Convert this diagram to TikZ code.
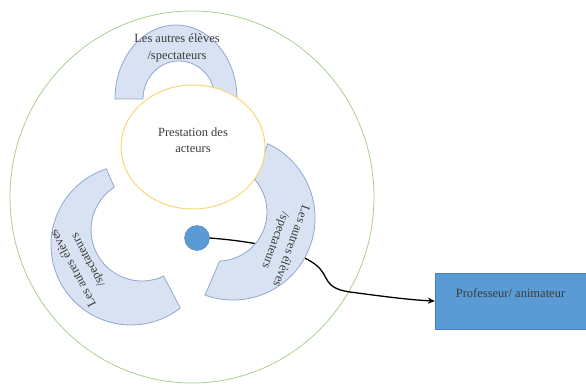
\documentclass[tikz,border=0pt]{standalone}
\usepackage{fontspec}
\setmainfont{Liberation Serif}
\usetikzlibrary{arrows.meta}
\definecolor{bandfill}{HTML}{D9E2F3}
\definecolor{bandline}{HTML}{8FA8CF}
\definecolor{ringgreen}{HTML}{A9CF8F}
\definecolor{ringyellow}{HTML}{F6D878}
\definecolor{profblue}{HTML}{5B9BD5}
\definecolor{profline}{HTML}{4A80B8}
\definecolor{txtgray}{HTML}{3A3A3A}
\begin{document}
\begin{tikzpicture}[x=1pt,y=1pt,
  band/.style={fill=bandfill,draw=bandline,line width=0.8pt},
  bandtext/.style={align=center,text=txtgray,font=\fontsize{12.5}{16.5}\selectfont},
  conn/.style={draw=black,line width=1.3pt,-{Stealth[length=7pt,width=6pt]}}]
\useasboundingbox (0,0) rectangle (586,-385);
\draw[ringgreen,line width=0.8pt] (192,-197) ellipse [x radius=182, y radius=186];
\node[circle,fill=profblue,draw=profline,minimum size=25pt,inner sep=0pt] (anim) at (197,-238) {};
\node[rectangle,fill=profblue,draw=profline,minimum width=151pt,minimum height=56pt,
  text height=9pt,text depth=17pt,text=txtgray,font=\fontsize{12.5}{15}\selectfont] (prof) at (510.5,-301) {Professeur/ animateur};
\draw[conn] (anim.east) .. controls (262,-242) and (300,-252) .. (316,-265)
  .. controls (330,-276) and (322,-288) .. (350,-292)
  .. controls (380,-296) and (410,-300) .. (prof.west);
% the three block arcs
\filldraw[band] (237,-99) arc[start angle=0, end angle=180, x radius=61, y radius=74]
  -- (143,-99) arc[start angle=180, end angle=0, x radius=36, y radius=38] -- cycle;
\filldraw[band] (106.3,-168.9) arc[start angle=108, end angle=308, radius=80]
  -- (163.6,-276.2) arc[start angle=295, end angle=123, radius=51] -- cycle;
\filldraw[band] (267.7,-143.7) arc[start angle=65, end angle=-110, radius=82]
  -- (219.7,-261) arc[start angle=-88, end angle=41, radius=49] -- cycle;
\node[bandtext] (eleveshaut) at (177,-48) {Les autres élèves\\/spectateurs};
\node[bandtext,rotate=118] (elevesgauche) at (81,-264) {Les autres élèves\\/spectateurs};
\node[bandtext,rotate=-110] (elevesdroite) at (283,-243) {Les autres élèves\\/spectateurs};
\draw[ringyellow,fill=white,line width=1pt] (193,-147) ellipse [x radius=72, y radius=62];
\node[bandtext] (acteurs) at (193,-140) {Prestation des\\acteurs};
\end{tikzpicture}
\end{document}
